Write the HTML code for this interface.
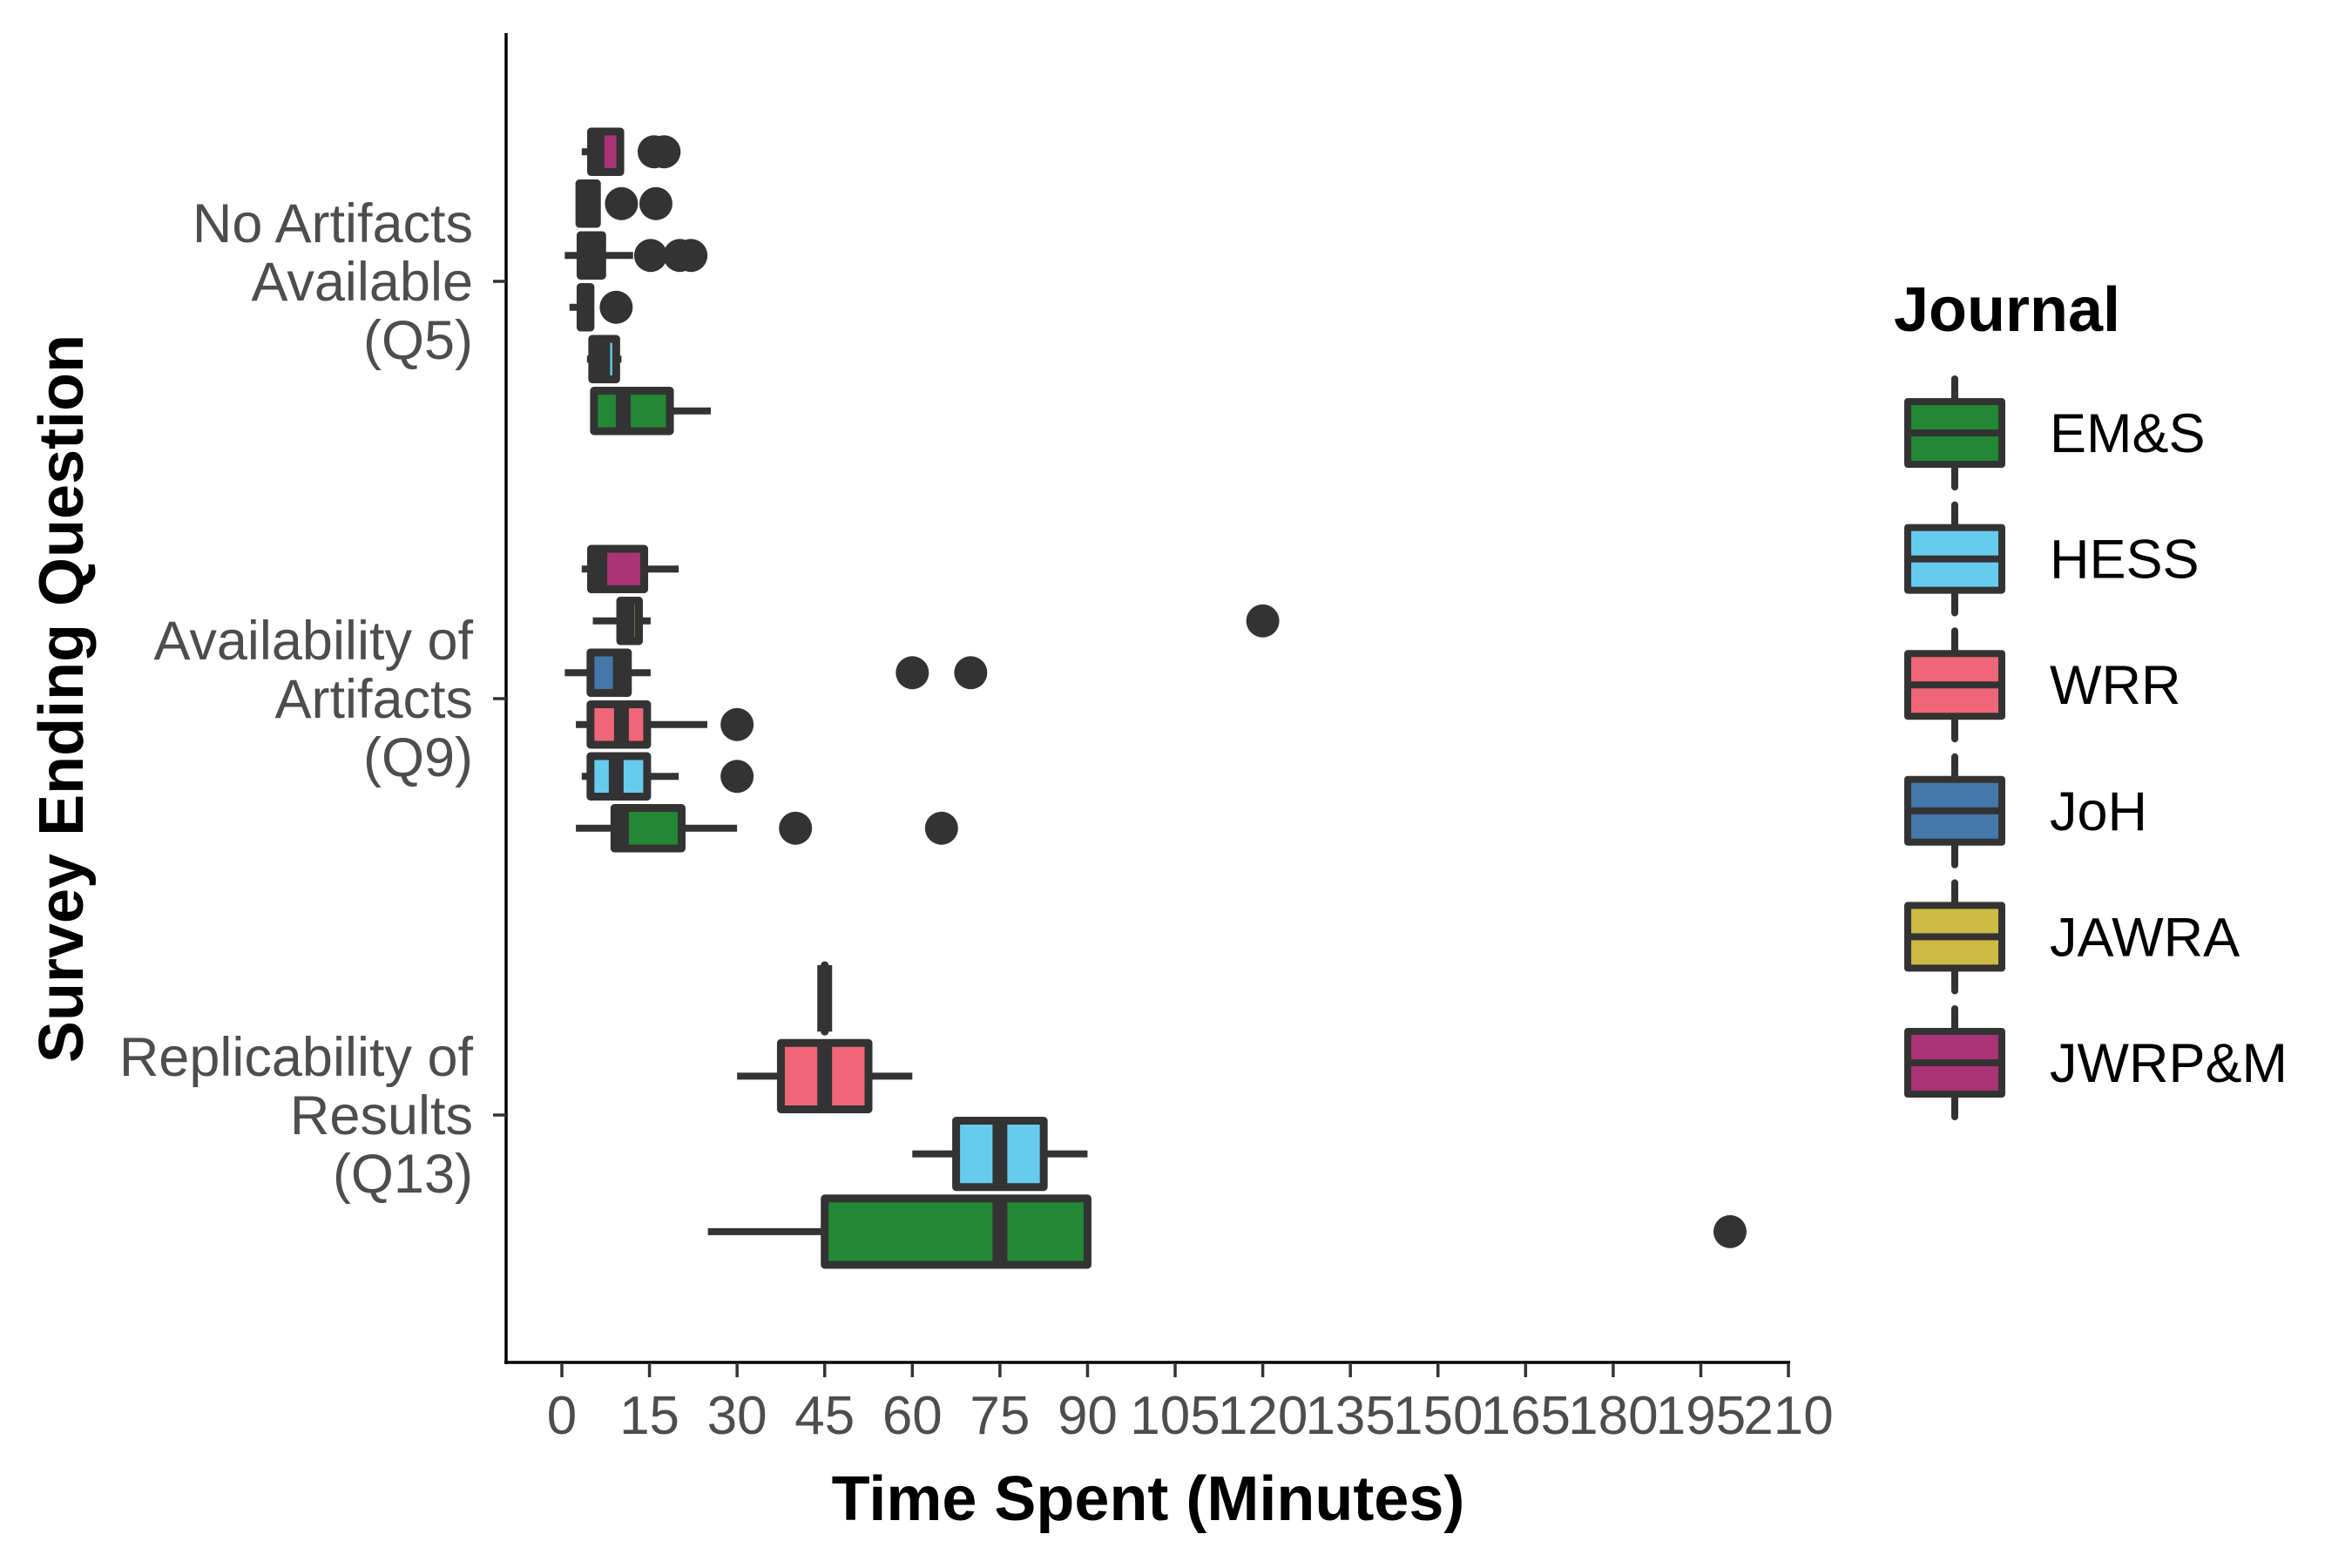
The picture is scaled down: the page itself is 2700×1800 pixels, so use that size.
<!DOCTYPE html>
<html><head><meta charset="utf-8"><style>
html,body{margin:0;padding:0;background:#fff;}
svg{display:block;font-family:"Liberation Sans",Arial,sans-serif;}
</style></head><body>
<svg id="chart" width="2700" height="1800" viewBox="0 0 2700 1800" xmlns="http://www.w3.org/2000/svg">
<rect x="0" y="0" width="2700" height="1800" fill="#fff"/>
<g id="plot"></g>
<g id="axes"></g>
<text x="1318" y="1745" font-size="72" font-weight="bold" text-anchor="middle" fill="#000">Time Spent (Minutes)</text>
<text transform="translate(95,802) rotate(-90)" font-size="72" font-weight="bold" text-anchor="middle" fill="#000">Survey Ending Question</text>
<g id="legend">
<text x="2174" y="380" font-size="72" font-weight="bold" fill="#000">Journal</text>
</g>
</svg>
<script>
const categories = ["No Artifacts\nAvailable\n(Q5)", "Availability of\nArtifacts\n(Q9)", "Replicability of\nResults\n(Q13)"];
const journals = ["EM&S", "HESS", "WRR", "JoH", "JAWRA", "JWRP&M"];
const colors = ["#228833", "#66CCEE", "#EE6677", "#4477AA", "#CCBB44", "#AA3377"];
const xTicks = [0, 15, 30, 45, 60, 75, 90, 105, 120, 135, 150, 165, 180, 195, 210];
// each box: [categoryIndex, journalIndex, whiskerLow, q1, median, q3, whiskerHigh]
const boxStats = [
  [0, 5, 3.4, 5.0, 6.0, 10.0, 10.0],
  [0, 4, 2.4, 3.0, 4.5, 6.0, 6.0],
  [0, 3, 0.5, 3.2, 5.0, 6.9, 12.2],
  [0, 2, 1.3, 3.2, 4.0, 4.9, 4.9],
  [0, 1, 4.3, 5.2, 7.0, 9.3, 10.2],
  [0, 0, 5.5, 5.5, 10.5, 18.5, 25.5],
  [1, 5, 3.4, 5.0, 6.5, 14.1, 20.0],
  [1, 4, 5.3, 10.0, 11.2, 13.2, 15.2],
  [1, 3, 0.5, 4.9, 10.0, 11.3, 15.2],
  [1, 2, 2.4, 4.9, 10.2, 14.6, 24.9],
  [1, 1, 3.4, 4.9, 9.3, 14.6, 20.0],
  [1, 0, 2.4, 9.0, 10.2, 20.5, 30.0],
  [2, 3, 45, 45, 45, 45, 45],
  [2, 2, 30, 37.5, 45, 52.5, 60],
  [2, 1, 60, 67.5, 75, 82.5, 90],
  [2, 0, 25, 45, 75, 90, 90]
];
// outliers: [categoryIndex, journalIndex, value]
const outliers = [
  [0, 5, 15.8], [0, 5, 17.5],
  [0, 4, 10.2], [0, 4, 16.1],
  [0, 3, 15.2], [0, 3, 20.2], [0, 3, 22.1],
  [0, 2, 9.3],
  [1, 4, 120],
  [1, 3, 60], [1, 3, 70],
  [1, 2, 30],
  [1, 1, 30],
  [1, 0, 40], [1, 0, 65],
  [2, 0, 200]
];

const NS = "http://www.w3.org/2000/svg";
const X0 = 645, XPER = 6.705;
function xs(v){ return X0 + v * XPER; }
const catY = [323, 802, 1280];
const DODGE = 357;
function nIn(ci){ return boxStats.filter(b => b[0] === ci).length; }
function slotY(ci, ji){
  const present = boxStats.filter(b => b[0] === ci).map(b => b[1]).sort((a,b)=>b-a);
  const n = present.length, k = present.indexOf(ji), sp = DODGE / n;
  return catY[ci] - DODGE/2 + sp*(k+0.5);
}
function mk(tag, attrs, parent){
  const e = document.createElementNS(NS, tag);
  for (const k in attrs) e.setAttribute(k, attrs[k]);
  parent.appendChild(e); return e;
}
const plot = document.getElementById('plot');
const DK = "#333333";
boxStats.forEach(b => {
  const [ci, ji, lo, q1, med, q3, hi] = b;
  const yc = slotY(ci, ji), h = DODGE / nIn(ci) - 4;
  const g = mk('g', {}, plot);
  
  
  const w1 = mk('line', {x1: xs(lo), x2: xs(q1), y1: yc, y2: yc, stroke: DK, 'stroke-width': 8}, g);
  
  
  const w2 = mk('line', {x1: xs(q3), x2: xs(hi), y1: yc, y2: yc, stroke: DK, 'stroke-width': 8}, g);
  
  
  const r = mk('rect', {x: xs(q1), y: yc - h/2 + 4.5, width: Math.max(0.1, xs(q3) - xs(q1)), height: h - 9, fill: colors[ji], stroke: DK, 'stroke-width': 9, 'stroke-linejoin': 'round'}, g);
  
  
  const m = mk('line', {x1: xs(med), x2: xs(med), y1: yc - h/2 + 4.5, y2: yc + h/2 - 4.5, stroke: DK, 'stroke-width': 17, 'stroke-linecap': 'butt'}, g);
  
  
});
outliers.forEach(o => {
  const c = mk('circle', {cx: xs(o[2]), cy: slotY(o[0], o[1]), r: 19, fill: DK}, plot);
  
  
});

const axes = document.getElementById('axes');
const yl = mk('line', {x1: 581, x2: 581, y1: 38, y2: 1566, stroke: '#000', 'stroke-width': 3.5}, axes);


const xl = mk('line', {x1: 579, x2: xs(210) + 2, y1: 1564, y2: 1564, stroke: '#000', 'stroke-width': 3.5}, axes);


xTicks.forEach(t => {
  const tk = mk('line', {x1: xs(t), x2: xs(t), y1: 1566, y2: 1581, stroke: DK, 'stroke-width': 3.5}, axes);
  
  
  const tx = mk('text', {x: xs(t), y: 1646, 'font-size': 62, 'text-anchor': 'middle', fill: '#4d4d4d'}, axes);
  tx.textContent = t;
  
  
});
categories.forEach((c, i) => {
  const tk = mk('line', {x1: 566, x2: 581, y1: catY[i], y2: catY[i], stroke: DK, 'stroke-width': 3.5}, axes);
  
  
  const lines = c.split('\n');
  const tx = mk('text', {x: 543, y: 0, 'font-size': 63, 'text-anchor': 'end', fill: '#4d4d4d'}, axes);
  
  
  lines.forEach((l, k) => {
    const ts = mk('tspan', {x: 543, y: catY[i] + 22 + (k - 1) * 67}, tx);
    ts.textContent = l;
  });
});

const legend = document.getElementById('legend');
journals.forEach((j, i) => {
  const yc = 497 + i * 144.6;
  const g = mk('g', {}, legend);
  
  
  mk('line', {x1: 2244, x2: 2244, y1: yc - 62, y2: yc + 62, stroke: DK, 'stroke-width': 8, 'stroke-linecap': 'round'}, g);
  mk('rect', {x: 2190, y: yc - 36, width: 108, height: 72, fill: colors[i], stroke: DK, 'stroke-width': 8, 'stroke-linejoin': 'round'}, g);
  mk('line', {x1: 2190, x2: 2298, y1: yc, y2: yc, stroke: DK, 'stroke-width': 8}, g);
  const t = mk('text', {x: 2353, y: yc + 22, 'font-size': 63, fill: '#000'}, g);
  t.textContent = j;
});
</script>
</body></html>
